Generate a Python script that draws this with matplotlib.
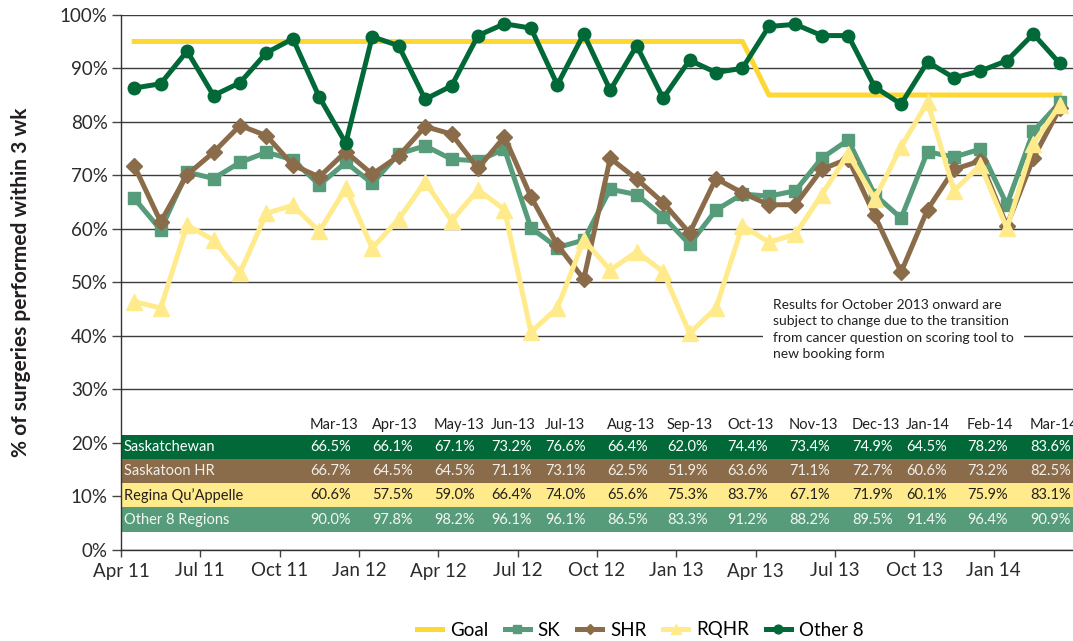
import numpy as np
import matplotlib
matplotlib.use("Agg")
import matplotlib.pyplot as plt
from matplotlib.patches import Rectangle
from matplotlib.transforms import blended_transform_factory

plt.rcParams['font.family'] = ['Lato', 'DejaVu Sans']

# --------------------------
# Data (Apr 2011 - Mar 2014, monthly)
# --------------------------
goal = [95, 95, 95, 95, 95, 95, 95, 95, 95, 95, 95, 95,
        95, 95, 95, 95, 95, 95, 95, 95, 95, 95, 95, 95,
        85, 85, 85, 85, 85, 85, 85, 85, 85, 85, 85, 85]
sk = [65.7, 59.8, 70.6, 69.4, 72.4, 74.3, 72.9, 68.2, 72.4, 68.5, 74.0, 75.5,
      73.0, 72.7, 74.9, 60.2, 56.5, 57.9, 67.4, 66.4, 62.3, 57.1, 63.5, 66.5,
      66.1, 67.1, 73.2, 76.6, 66.4, 62.0, 74.4, 73.4, 74.9, 64.5, 78.2, 83.6]
shr = [71.8, 61.3, 70.1, 74.3, 79.3, 77.4, 71.9, 69.7, 74.4, 70.2, 73.6, 79.1,
       77.7, 71.3, 77.2, 66.0, 57.0, 50.6, 73.2, 69.3, 64.9, 59.2, 69.4, 66.7,
       64.5, 64.5, 71.1, 73.1, 62.5, 51.9, 63.6, 71.1, 72.7, 60.6, 73.2, 82.5]
rqhr = [46.4, 45.2, 60.7, 57.9, 51.8, 62.9, 64.4, 59.5, 67.6, 56.4, 61.8, 68.8,
        61.5, 67.3, 63.6, 40.7, 45.2, 57.9, 52.3, 55.7, 52.0, 40.5, 45.2, 60.6,
        57.5, 59.0, 66.4, 74.0, 65.6, 75.3, 83.7, 67.1, 71.9, 60.1, 75.9, 83.1]
other8 = [86.3, 87.1, 93.2, 84.9, 87.3, 92.9, 95.5, 84.6, 76.0, 95.9, 94.2, 84.2,
          86.7, 96.1, 98.3, 97.5, 86.9, 96.4, 85.9, 94.2, 84.4, 91.5, 89.2, 90.0,
          97.8, 98.2, 96.1, 96.1, 86.5, 83.3, 91.2, 88.2, 89.5, 91.4, 96.4, 90.9]

quarter_labels = ['Apr 11', 'Jul 11', 'Oct 11', 'Jan 12', 'Apr 12', 'Jul 12',
                  'Oct 12', 'Jan 13', 'Apr 13', 'Jul 13', 'Oct 13', 'Jan 14']

table_months = ['Mar-13', 'Apr-13', 'May-13', 'Jun-13', 'Jul-13', 'Aug-13', 'Sep-13',
                'Oct-13', 'Nov-13', 'Dec-13', 'Jan-14', 'Feb-14', 'Mar-14']
table_rows = ['Saskatchewan', 'Saskatoon HR', 'Regina Qu\u2019Appelle', 'Other 8 Regions']
table_vals = [
    [66.5, 66.1, 67.1, 73.2, 76.6, 66.4, 62.0, 74.4, 73.4, 74.9, 64.5, 78.2, 83.6],
    [66.7, 64.5, 64.5, 71.1, 73.1, 62.5, 51.9, 63.6, 71.1, 72.7, 60.6, 73.2, 82.5],
    [60.6, 57.5, 59.0, 66.4, 74.0, 65.6, 75.3, 83.7, 67.1, 71.9, 60.1, 75.9, 83.1],
    [90.0, 97.8, 98.2, 96.1, 96.1, 86.5, 83.3, 91.2, 88.2, 89.5, 91.4, 96.4, 90.9],
]

note = ("Results for October 2013 onward are\n"
        "subject to change due to the transition\n"
        "from cancer question on scoring tool to\n"
        "new booking form")

# --------------------------
# Styles
# --------------------------
c_goal = '#FDD835'
c_sk = '#579C7A'
c_shr = '#8B6C4A'
c_rqhr = '#FFEB8C'
c_oth = '#006937'
row_colors = [c_oth, c_shr, c_rqhr, c_sk]
row_text = ['white', '#F2EEE8', '#231F20', '#F2F7F4']
col_x = [310, 372, 434, 491, 545, 607, 667, 727, 789, 852, 906, 967, 1030]  # pixel positions
txt = '#2B2B2B'

fig = plt.figure(figsize=(10.73, 6.41), dpi=100)
ax = fig.add_axes([121 / 1073, 91 / 641, 952 / 1073, 535.3 / 641])

x = np.arange(len(goal))
lw = 3.6
ax.plot(x, goal, color=c_goal, lw=lw, label='Goal', zorder=3)
ax.plot(x, sk, color=c_sk, lw=lw, marker='s', ms=9, label='SK', zorder=4)
ax.plot(x, shr, color=c_shr, lw=lw, marker='D', ms=8, label='SHR', zorder=4)
ax.plot(x, rqhr, color=c_rqhr, lw=lw, marker='^', ms=11, label='RQHR', zorder=5)
ax.plot(x, other8, color=c_oth, lw=lw, marker='o', ms=9, label='Other 8', zorder=6)

ax.set_xlim(-0.5, 35.5)
ax.set_ylim(0, 100)
ax.set_yticks(np.arange(0, 101, 10))
ax.set_yticklabels([f'{v}%' for v in range(0, 101, 10)])
ax.set_xticks(np.arange(len(quarter_labels)) * 3 - 0.5)
ax.set_xticklabels(quarter_labels)
ax.tick_params(axis='y', direction='out', length=6.5, width=1, color='#444',
               labelsize=13.5, labelcolor=txt, pad=3)
ax.tick_params(axis='x', direction='out', length=5, width=1, color='#444',
               labelsize=13.5, labelcolor=txt, pad=4)
ax.yaxis.grid(True, color='#3C3C3C', lw=1.0)
ax.set_axisbelow(True)
for s in ['top', 'right']:
    ax.spines[s].set_visible(False)
for s in ['left', 'bottom']:
    ax.spines[s].set_color('#333333')
    ax.spines[s].set_linewidth(1.0)

ax.set_ylabel('% of surgeries performed within 3 wk', fontsize=15, fontweight='bold',
              color='#231F20')
ax.yaxis.set_label_coords((31 - 121) / 952, 0.5)

# --------------------------
# Embedded data table
# --------------------------
tr = blended_transform_factory(ax.transAxes, ax.transData)
row_top = 21.5
row_h = 4.52
for j, m in enumerate(table_months):
    ax.text((col_x[j] - 121) / 952, 23.4, m, transform=tr, fontsize=10.5,
            color='#231F20', va='center', ha='left')
for i, name in enumerate(table_rows):
    y0 = row_top - (i + 1) * row_h
    ax.add_patch(Rectangle((0, y0), 1, row_h, transform=tr, facecolor=row_colors[i],
                           edgecolor='none', zorder=2))
    yc = y0 + row_h / 2
    ax.text(3 / 952, yc, name, transform=tr, fontsize=10.5, color=row_text[i],
            va='center', ha='left', zorder=3)
    for j, v in enumerate(table_vals[i]):
        ax.text((col_x[j] - 121) / 952, yc, f'{v:.1f}%', transform=tr, fontsize=10.5,
                color=row_text[i], va='center', ha='left', zorder=3)

ax.text((773 - 121) / 952, 46.9, note, transform=tr, fontsize=10, color='#231F20',
        va='top', ha='left', linespacing=1.45, zorder=2,
        bbox=dict(facecolor='white', edgecolor='none', pad=7))

fig.legend(loc='center', bbox_to_anchor=(640 / 1073, 1 - 630 / 641), ncol=5,
           frameon=False, fontsize=13.5, handlelength=1.35, handletextpad=0.4,
           columnspacing=0.9, markerscale=0.7)

fig.savefig('out.png', dpi=100)
